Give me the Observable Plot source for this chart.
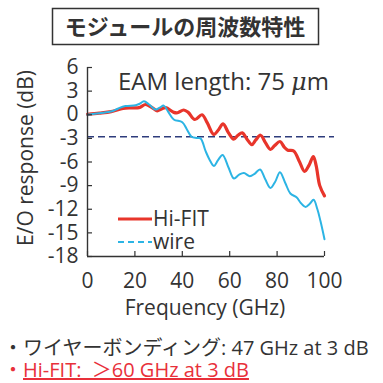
<!DOCTYPE html>
<html>
<head>
<meta charset="utf-8">
<script src="https://cdn.jsdelivr.net/npm/d3@7"></script>
<script src="https://cdn.jsdelivr.net/npm/@observablehq/plot@0.6"></script>
<style>
  html, body { margin: 0; padding: 0; background: #fff; }
  #wrap { position: relative; width: 383px; height: 383px; background: #fff; overflow: hidden; }
  #chart { position: absolute; left: 0; top: 0; }
  #overlay { position: absolute; left: 0; top: 0; pointer-events: none; }
  .lat { font-family: "Open Sans", "Noto Sans CJK JP", sans-serif; fill: #333; white-space: pre; }
</style>
</head>
<body>
<div id="wrap">
  <div id="chart"></div>
  <svg id="overlay" width="383" height="383" xmlns="http://www.w3.org/2000/svg">
    <rect x="52.5" y="8.5" width="266" height="36" fill="none" stroke="#333" stroke-width="1.5"/>
    <text x="185" y="35" text-anchor="middle" style="font-family:'Noto Sans CJK JP',sans-serif;font-weight:bold;font-size:22px;fill:#333">モジュールの周波数特性</text>
    <text class="lat" transform="translate(33,158) rotate(-90)" text-anchor="middle" font-size="21">E/O response (dB)</text>
    <text class="lat" x="205" y="315" text-anchor="middle" font-size="21">Frequency (GHz)</text>
    <text class="lat" x="118" y="90" font-size="24">EAM length: 75 <tspan font-style="italic" font-family="DejaVu Serif">μ</tspan>m</text>
    <line x1="118" x2="152" y1="219" y2="219" stroke="#e8352b" stroke-width="3"/>
    <text class="lat" x="153" y="226" font-size="21">Hi-FIT</text>
    <line x1="118" x2="152" y1="242" y2="242" stroke="#2cb4e4" stroke-width="2" stroke-dasharray="6,4"/>
    <text class="lat" x="153" y="249" font-size="21">wire</text>
    <text class="lat" x="3" y="355" font-size="20">・ワイヤーボンディング: 47 GHz at 3 dB</text>
    <text class="lat" x="3" y="377" font-size="20" style="fill:#e8303a">・<tspan text-decoration="underline">Hi-FIT:  ＞60 GHz at 3 dB</tspan></text>
  </svg>
</div>
<script>
// Tick values
const xTicks = [0, 20, 40, 60, 80, 100];
const yTicks = [6, 3, 0, -3, -6, -9, -12, -15, -18];

// Hi-FIT series
const hifitFreq = [0, 5, 10, 15, 18, 21.7, 24.5, 27, 29.4, 31, 33, 36.4, 38, 40.6, 42.5, 45.3, 48.3, 50.5, 53.3, 55.3, 57.2, 59.5, 61.7, 63.5, 65.3, 67.3, 69.3, 71, 73, 75, 77.2, 79, 81.2, 83, 84.5, 87, 89.5, 91.6, 93.5, 95.3, 96.5, 98, 100];
const hifitDb   = [0.05, 0.2, 0.4, 0.8, 0.88, 0.9, 1.3, 0.95, 0.5, 0.7, 0.9, 0.3, 0.25, 0.6, 0.3, -0.6, 0.0, -1.0, -2.5, -1.9, -1.15, -2.3, -3.1, -2.6, -2.3, -3.1, -3.8, -3.2, -2.6, -3.5, -4.4, -3.9, -3.4, -4.1, -4.5, -4.6, -6.0, -7.2, -6.4, -5.3, -6.5, -9.0, -10.3];

// wire series
const wireFreq = [0, 5, 10.4, 13, 16, 20.3, 22, 23.8, 26, 28.7, 30.5, 32.2, 34, 36.4, 40, 42, 43.9, 46, 47.7, 49.8, 51.5, 53.3, 55, 57, 59.5, 61.8, 64, 66, 68.5, 70.5, 72.8, 75, 77.2, 79.2, 81.2, 83.5, 85.6, 88.3, 90, 92, 93.8, 95.4, 97, 98.3, 100];
const wireDb   = [0, 0.2, 0.44, 0.8, 1.1, 1.2, 1.4, 1.7, 1.3, 0.66, 0.9, 1.16, 0.4, -0.6, -0.95, -1.9, -2.8, -2.95, -3.0, -4.6, -5.7, -6.5, -5.8, -5.1, -6.7, -8.1, -7.6, -7.4, -7.8, -7.5, -6.95, -8.2, -9.3, -8.5, -7.3, -8.7, -10.0, -10.5, -11.2, -11.7, -11.3, -10.8, -12, -13.5, -15.8];

// 3 dB reference level
const refLevel = [-2.8];

const hifit = hifitFreq.map((f, i) => ({f, db: hifitDb[i]}));
const wire = wireFreq.map((f, i) => ({f, db: wireDb[i]}));

const marginTop = 67, marginBottom = 64, marginLeft = 87, marginRight = 59;
const W = 383, H = 320;
const frameW = W - marginLeft - marginRight;
const frameH = H - marginTop - marginBottom;

const chart = Plot.plot({
  width: W,
  height: H,
  marginTop, marginBottom, marginLeft, marginRight,
  style: {fontFamily: "'Open Sans', sans-serif", fontSize: "21px", color: "#333", background: "transparent", overflow: "visible"},
  x: {domain: [0, 100], ticks: xTicks, tickSize: 0, tickPadding: 17, label: null, tickFormat: d => String(d)},
  y: {domain: [-18, 6], ticks: yTicks, tickSize: 0, tickPadding: 9, label: null, tickFormat: d => String(d)},
  marks: [
    Plot.ruleY(refLevel, {stroke: "#2e3c7c", strokeWidth: 1.6, strokeDasharray: "7,4", insetRight: -10}),
    Plot.line(hifit, {x: "f", y: "db", stroke: "#e8352b", strokeWidth: 3.2, curve: "catmull-rom"}),
    Plot.line(wire, {x: "f", y: "db", stroke: "#2cb4e4", strokeWidth: 2, curve: "catmull-rom"}),
    Plot.tickX(xTicks, {x: d => d, insetTop: frameH - 5, stroke: "#333", strokeWidth: 1.2}),
    Plot.tickY(yTicks, {y: d => d, insetRight: frameW - 5, stroke: "#333", strokeWidth: 1.2}),
    Plot.ruleX([0], {stroke: "#333", strokeWidth: 1.4}),
    Plot.ruleY([-18], {stroke: "#333", strokeWidth: 1.4})
  ]
});
document.getElementById("chart").appendChild(chart);
</script>
</body>
</html>
